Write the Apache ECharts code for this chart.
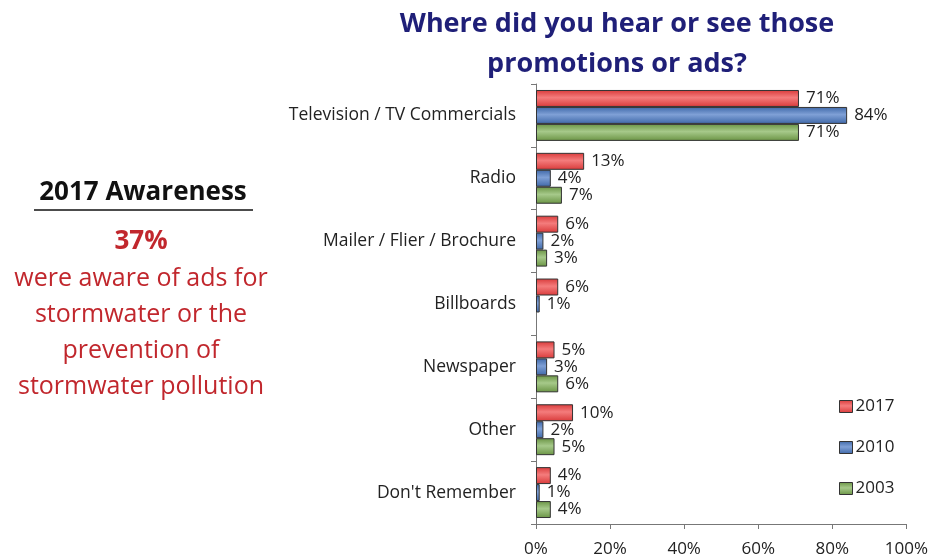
<!DOCTYPE html>
<html>
<head>
<meta charset="utf-8">
<script src="https://cdn.jsdelivr.net/npm/echarts@6/dist/echarts.min.js"></script>
<style>
  html, body { margin: 0; padding: 0; background: #fff; }
  #chart { width: 931px; height: 560px; }
</style>
</head>
<body>
<div id="chart"></div>
<script>
// Survey answers: where respondents heard or saw stormwater promotions
const categories = ['Television / TV Commercials', 'Radio', 'Mailer / Flier / Brochure', 'Billboards', 'Newspaper', 'Other', "Don't Remember"];
const years = ['2017', '2010', '2003'];
const values2017 = [71, 13, 6, 6, 5, 10, 4];
const values2010 = [84, 4, 2, 1, 3, 2, 1];
const values2003 = [71, 7, 3, null, 6, 5, 4];
const xTicks = [0, 20, 40, 60, 80, 100];

const FONT = '"Open Sans", "Noto Sans", sans-serif';

function glossy(dark, light) {
  return new echarts.graphic.LinearGradient(0, 0, 0, 1, [
    { offset: 0, color: dark },
    { offset: 0.45, color: light },
    { offset: 1, color: dark }
  ]);
}

const palette = [
  glossy('#d93a3a', '#f47c7c'),
  glossy('#3f68a8', '#7fa0d6'),
  glossy('#6a9444', '#a6c98a')
];

function makeSeries(name, data, i) {
  return {
    name: name,
    type: 'bar',
    data: data,
    barGap: '0%',
    barCategoryGap: '19%',
    itemStyle: { color: palette[i], borderColor: '#333', borderWidth: 1 },
    label: {
      show: true,
      position: 'right',
      distance: 7,
      formatter: p => p.value + '%',
      color: '#222',
      fontFamily: FONT,
      fontSize: 17
    }
  };
}

const chart = echarts.init(document.getElementById('chart'));
chart.setOption({
  animation: false,
  title: {
    text: 'Where did you hear or see those\npromotions or ads?',
    left: 612,
    top: -1,
    textAlign: 'center',
    textStyle: { color: '#1f1f78', fontFamily: FONT, fontWeight: 'bold', fontSize: 27, lineHeight: 40 }
  },
  legend: {
    data: years,
    orient: 'vertical',
    left: 834,
    top: 393,
    itemGap: 24,
    itemWidth: 13,
    itemHeight: 12,
    itemStyle: { borderColor: '#333', borderWidth: 1 },
    icon: 'rect',
    textStyle: { color: '#222', fontFamily: FONT, fontSize: 17, padding: [0, 0, 0, -2] }
  },
  grid: { left: 536, right: 20, top: 84, bottom: 36, containLabel: false },
  xAxis: {
    type: 'value',
    min: 0,
    max: 100,
    interval: 20,
    axisLine: { show: true, lineStyle: { color: '#777' } },
    axisTick: { show: true, length: 5, lineStyle: { color: '#777' } },
    splitLine: { show: false },
    axisLabel: {
      formatter: v => (xTicks.includes(v) ? v + '%' : ''),
      color: '#222', fontFamily: FONT, fontSize: 17, margin: 17
    }
  },
  yAxis: {
    type: 'category',
    data: categories,
    inverse: true,
    axisLine: { show: true, lineStyle: { color: '#777' } },
    axisTick: { show: true, length: 5, lineStyle: { color: '#777' } },
    axisLabel: { color: '#222', fontFamily: FONT, fontSize: 17.5, margin: 20 }
  },
  series: [
    makeSeries(years[0], values2017, 0),
    makeSeries(years[1], values2010, 1),
    makeSeries(years[2], values2003, 2)
  ],
  graphic: [
    {
      type: 'text', x: 143, y: 193,
      style: { text: '2017 Awareness', textAlign: 'center', textVerticalAlign: 'middle', fill: '#111', font: 'bold 26px ' + FONT }
    },
    {
      type: 'line', shape: { x1: 34, y1: 210, x2: 253, y2: 210 },
      style: { stroke: '#111', lineWidth: 1.5 }
    },
    {
      type: 'text', x: 141, y: 242,
      style: { text: '37%', textAlign: 'center', textVerticalAlign: 'middle', fill: '#c1272d', font: 'bold 26px ' + FONT }
    },
    {
      type: 'text', x: 141, y: 261,
      style: {
        text: 'were aware of ads for\nstormwater or the\nprevention of\nstormwater pollution',
        fill: '#c1272d', font: '25px ' + FONT, lineHeight: 36, textAlign: 'center'
      }
    }
  ]
});
</script>
</body>
</html>
